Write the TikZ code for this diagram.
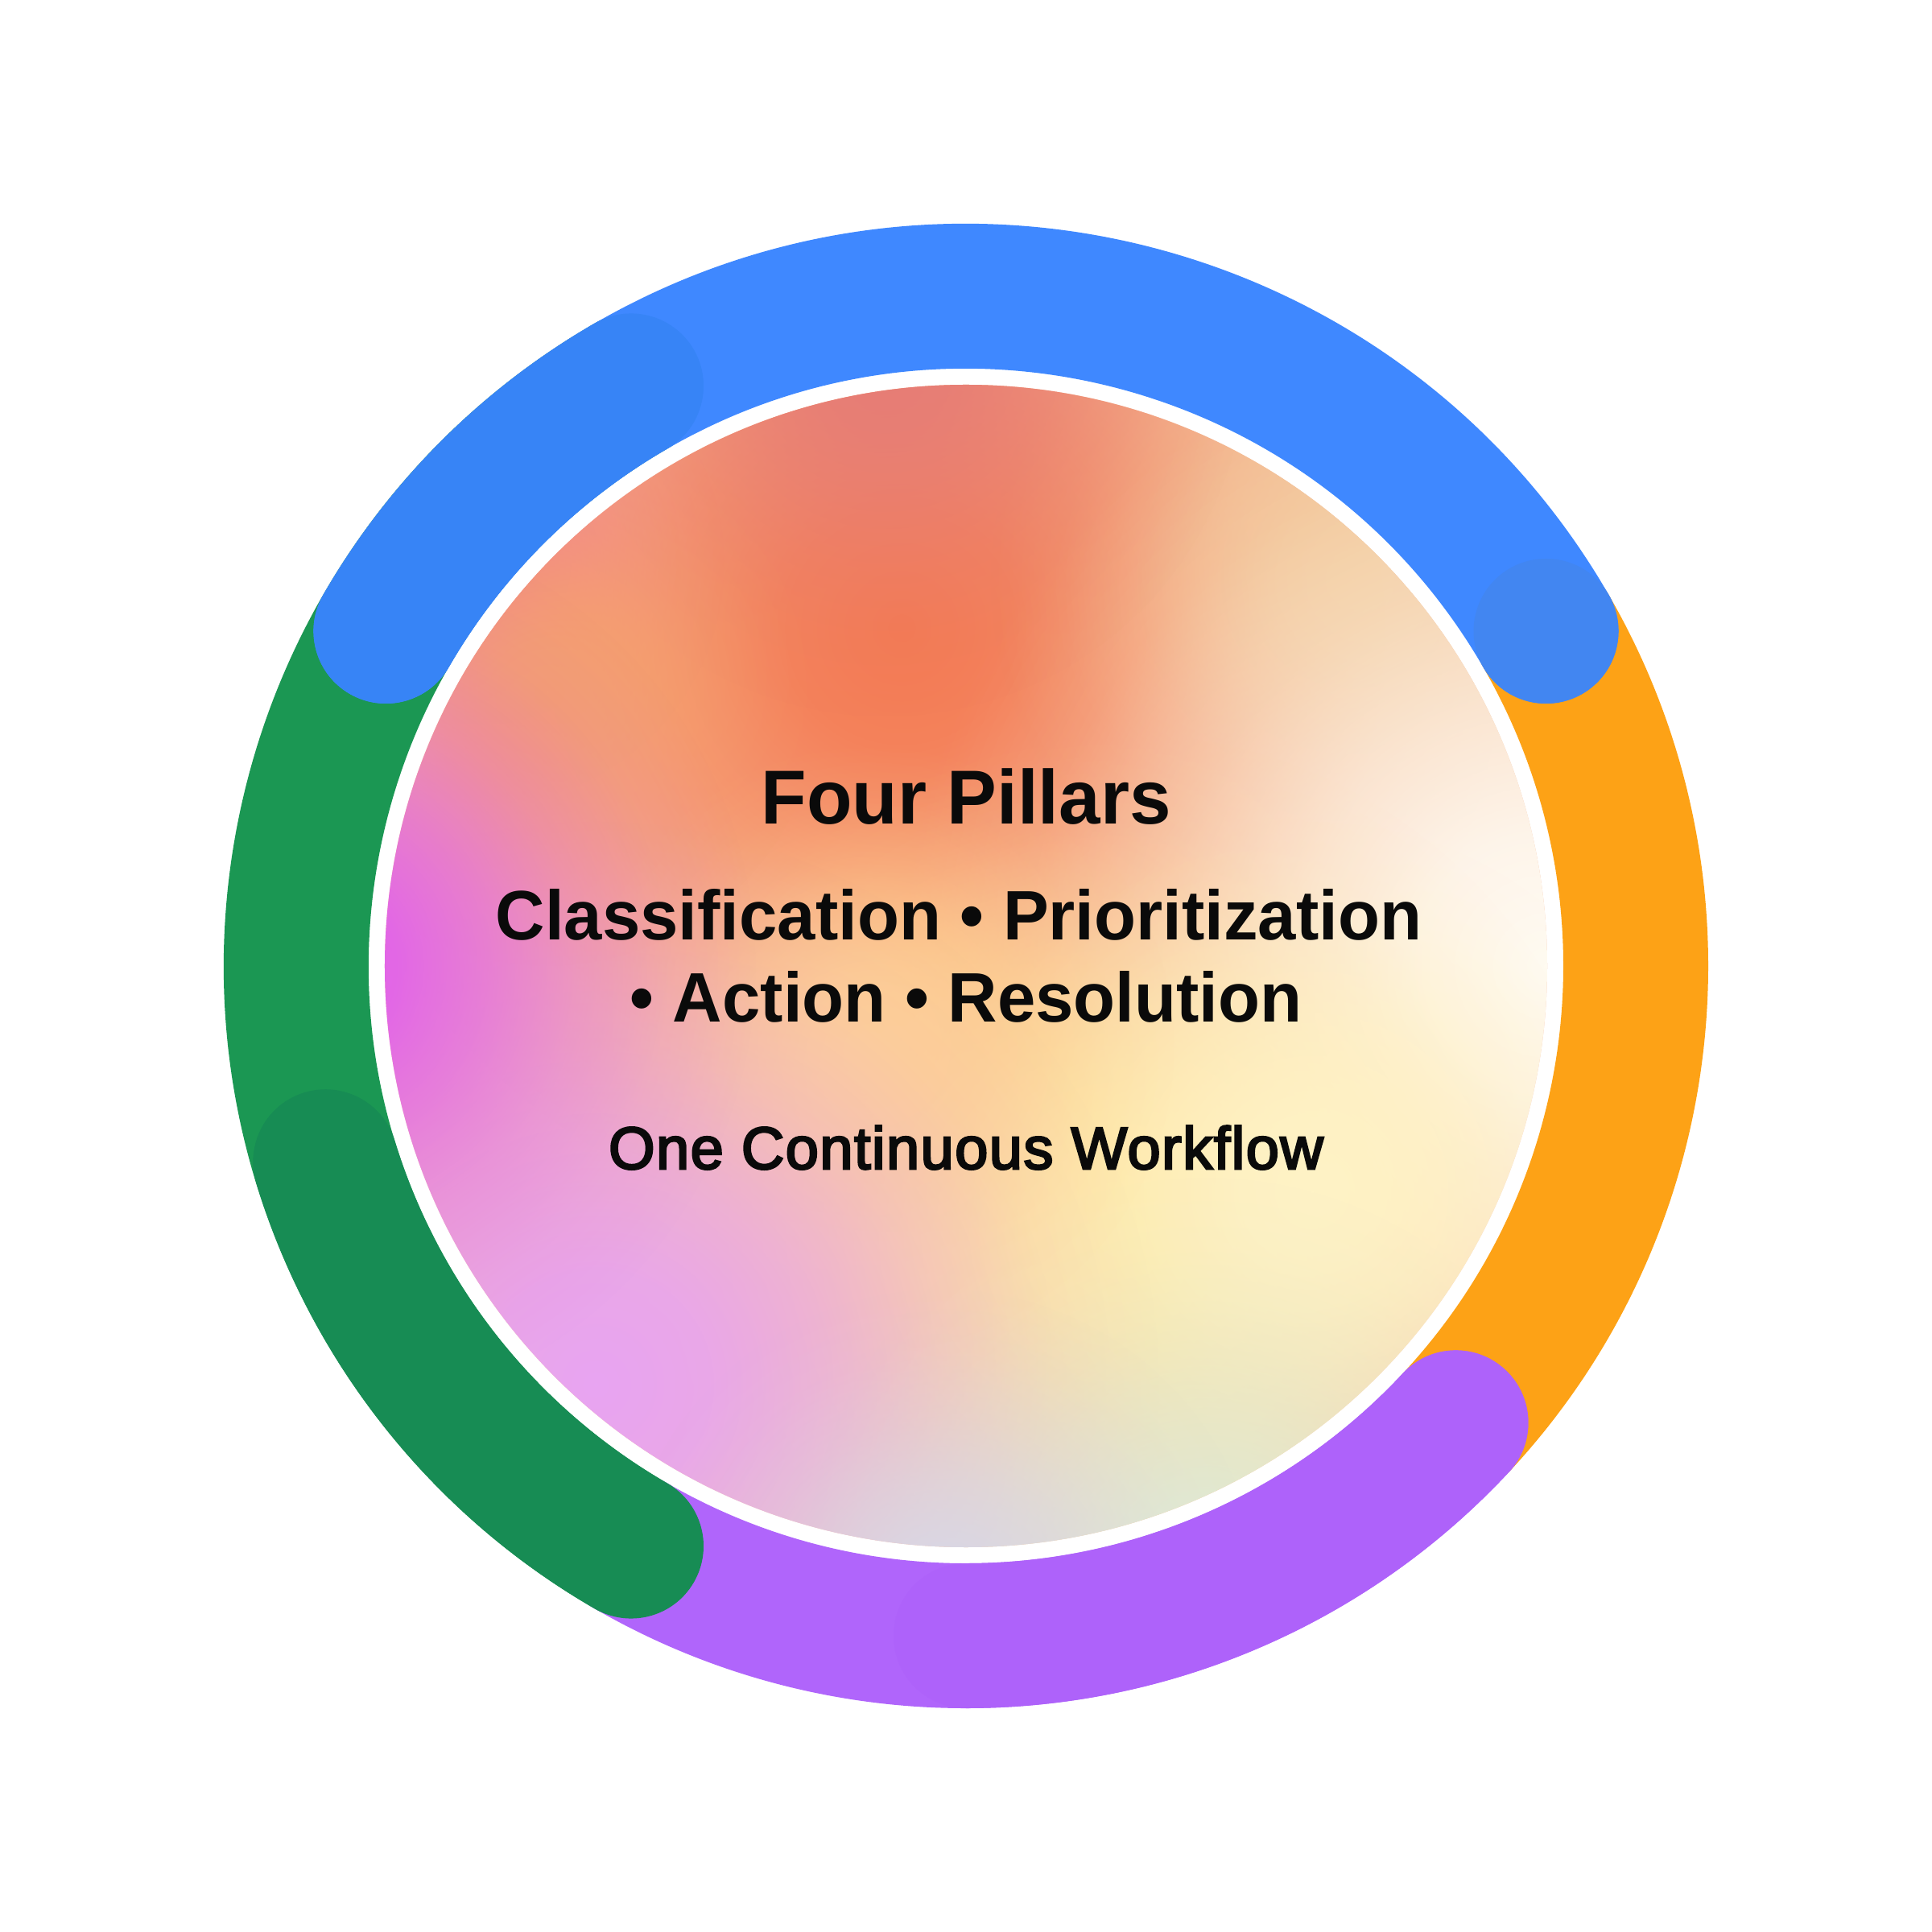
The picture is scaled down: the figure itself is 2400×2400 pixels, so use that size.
\documentclass[tikz,border=0pt]{standalone}
\usepackage{fontspec}
\setmainfont{Liberation Sans}
\newfontfamily\ttlfont[FakeStretch=0.974]{Liberation Sans}
\newfontfamily\pillfont[FakeStretch=0.978]{Liberation Sans}
\newfontfamily\subfont[LetterSpace=2.0,FakeBold=3.5]{Liberation Sans}
\usetikzlibrary{fadings}
\definecolor{blueL}{HTML}{3F88FF}
\definecolor{blueD}{HTML}{3784F6}
\definecolor{blueCap}{HTML}{4286F1}
\definecolor{orangeR}{HTML}{FDA216}
\definecolor{purpleR}{HTML}{B065FB}
\definecolor{purpleD}{HTML}{AE62FA}
\definecolor{greenR}{HTML}{1B9753}
\definecolor{greenD}{HTML}{178C54}
\definecolor{inkC}{HTML}{0A0A0A}
\definecolor{gBase}{HTML}{F7C0A0}
\definecolor{gCoral}{HTML}{F47A52}
\definecolor{gSalmon}{HTML}{E67C76}
\definecolor{gTan}{HTML}{F2C898}
\definecolor{gCream}{HTML}{FFFCF4}
\definecolor{gYellow}{HTML}{FFE8A0}
\definecolor{gLemon}{HTML}{FFF3C6}
\definecolor{gWarm}{HTML}{FFD292}
\definecolor{gLav}{HTML}{E8A4F2}
\definecolor{gMint}{HTML}{DFEDD6}
\definecolor{gGrey}{HTML}{D8D8E8}
\definecolor{gPink}{HTML}{F27A94}
\definecolor{gPeach}{HTML}{F5A26C}
\definecolor{gMag}{HTML}{E05CEE}
\pgfdeclareradialshading{blobshade}{\pgfpointorigin}{color(0bp)=(white); color(5bp)=(white!88!black); color(10bp)=(white!62!black); color(15bp)=(white!32!black); color(20bp)=(white!10!black); color(25bp)=(black); color(50bp)=(black)}
\pgfdeclarefading{blob}{\pgfuseshading{blobshade}}
\newcommand\ringarc[3]{\draw[ring,#1] (#2:832pt) arc[start angle=#2,end angle=#3,radius=832pt];}
\newcommand\glow[4]{\fill[#4,path fading=blob] (#1pt,#2pt) circle[radius=#3pt];}
\tikzset{
  ring/.style={line width=180pt,line cap=round},
  txt/.style={inner sep=0pt,text=inkC,anchor=base}
}
\begin{document}
\begin{tikzpicture}
\useasboundingbox (-1200pt,-1200pt) rectangle (1200pt,1200pt);
\fill[white] (-1200pt,-1200pt) rectangle (1200pt,1200pt);
% ring
\ringarc{orangeR}{30}{-43}
\ringarc{greenR}{120}{240}
\ringarc{purpleR}{240}{317}
\ringarc{blueL}{30}{150}
\ringarc{blueD}{150}{120}
\ringarc{greenD}{197}{240}
\ringarc{purpleD}{270}{317}
\fill[blueCap] (30:832pt) circle[radius=90pt];
% gradient disc
\begin{scope}
\clip (0,0) circle[radius=722pt];
\fill[gBase] (-730pt,-730pt) rectangle (730pt,730pt);
\glow{-80}{420}{750}{gCoral}
\glow{480}{480}{450}{gTan}
\glow{720}{0}{800}{gCream}
\glow{190}{-330}{620}{gYellow}
\glow{430}{-280}{460}{gLemon}
\glow{-120}{-100}{380}{gWarm}
\glow{-460}{-520}{700}{gLav}
\glow{300}{-760}{500}{gMint}
\glow{-30}{-800}{400}{gGrey}
\glow{-100}{760}{450}{gSalmon}
\glow{-600}{500}{300}{gPink}
\glow{-520}{340}{340}{gPeach}
\glow{-820}{0}{560}{gMag}
\end{scope}
% texts
\node[txt] (title) at (0pt,176pt) {\ttlfont\bfseries\fontsize{95}{95}\selectfont Four Pillars};
\node[txt] (lineA) at (-9pt,32pt) {\pillfont\bfseries\fontsize{87}{87}\selectfont Classification • Prioritization};
\node[txt] (lineB) at (0pt,-70pt) {\pillfont\bfseries\fontsize{87}{87}\selectfont • Action • Resolution};
\node[txt] (sub) at (0pt,-252pt) {\subfont\fontsize{74}{74}\selectfont One Continuous Workflow};
\end{tikzpicture}
\end{document}
